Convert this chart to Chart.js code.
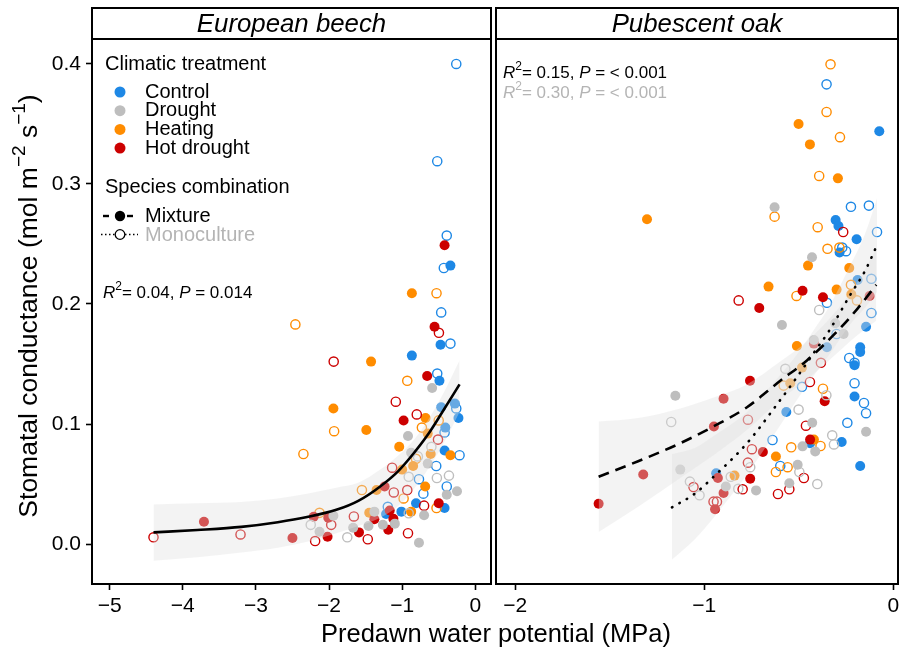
<!DOCTYPE html>
<html>
<head>
<meta charset="utf-8">
<title>Stomatal conductance vs predawn water potential</title>
<script src="https://cdn.jsdelivr.net/npm/chart.js@4.4.1/dist/chart.umd.min.js"></script>
<style>
	html, body { margin: 0; padding: 0; background: #fff; }
	#wrap { position: relative; width: 900px; height: 653px; overflow: hidden; }
	#beech-box { position: absolute; left: 0; top: 0; width: 494px; height: 653px; }
	#oak-box { position: absolute; left: 494px; top: 0; width: 406px; height: 653px; }
	#x-title {
		position: absolute; left: 246px; top: 619px; width: 500px; height: 28px;
		line-height: 28px; text-align: center; color: #000;
		font: 25.5px "Liberation Sans", Arial, Helvetica, sans-serif;
	}
</style>
</head>
<body>
<div id="wrap">
	<div id="beech-box"><canvas id="beechChart" width="494" height="653"></canvas></div>
	<div id="oak-box"><canvas id="oakChart" width="406" height="653"></canvas></div>
	<div id="x-title">Predawn water potential (MPa)</div>
</div>
<script>
// ---- tick labels ----
const beechXTicks = [-5, -4, -3, -2, -1, 0];
const oakXTicks = [-2, -1, 0];
const conductanceTicks = [0, 0.1, 0.2, 0.3, 0.4];

// ---- European beech: [water potential, conductance] ----
const beechControlMix = [[-0.34,0.232],[-0.475,0.166],[-0.867,0.157],[-0.49,0.136],[-0.466,0.114],[-0.28,0.117],[-0.23,0.105],[-0.41,0.097],[-0.42,0.078],[-0.81,0.034],[-0.42,0.030],[-1.22,0.025],[-1.01,0.027]];
const beechControlMono = [[-0.26,0.400],[-0.52,0.319],[-0.39,0.257],[-0.43,0.230],[-0.466,0.193],[-0.34,0.167],[-0.52,0.142],[-0.26,0.113],[-0.42,0.093],[-0.215,0.074],[-0.534,0.065],[-0.77,0.054],[-0.39,0.048],[-0.71,0.042],[-1.196,0.031]];
const beechDroughtMix = [[-0.59,0.130],[-0.92,0.090],[-0.877,0.076],[-0.65,0.067],[-0.25,0.044],[-0.39,0.041],[-0.70,0.024],[-1.94,0.0236],[-2.13,0.0103],[-1.38,0.027],[-1.264,0.016],[-1.1,0.017],[-1.67,0.0136],[-1.46,0.015],[-0.77,0.001]];
const beechDroughtMono = [[-0.91,0.056],[-0.525,0.055],[-0.36,0.057],[-0.91,0.0256],[-2.25,0.016],[-1.75,0.0056],[-0.6,0.081],[-0.785,0.073]];
const beechHeatingMix = [[-0.867,0.209],[-1.425,0.152],[-1.94,0.113],[-1.49,0.095],[-1.04,0.081],[-0.68,0.105],[-0.61,0.075],[-0.34,0.074],[-0.85,0.065],[-1.0,0.062],[-0.685,0.048],[-1.35,0.045],[-1.45,0.026],[-0.877,0.027],[-0.65,0.092]];
const beechHeatingMono = [[-0.53,0.209],[-2.46,0.183],[-0.93,0.136],[-1.93,0.094],[-2.35,0.075],[-0.73,0.097],[-0.81,0.071],[-1.55,0.045],[-0.98,0.038],[-0.53,0.030],[-2.13,0.026],[-0.5,0.103]];
const beechHotMix = [[-0.42,0.249],[-0.557,0.181],[-0.658,0.140],[-0.98,0.103],[-1.24,0.048],[-1.38,0.0206],[-1.12,0.021],[-1.17,0.028],[-0.5,0.034],[-1.19,0.012],[-1.59,0.0097],[-2.02,0.006],[-2.21,0.0228],[-2.01,0.022],[-2.5,0.005],[-3.71,0.0186]];
const beechHotMono = [[-0.497,0.176],[-1.936,0.152],[-1.087,0.1186],[-0.8,0.108],[-0.51,0.087],[-1.137,0.0636],[-1.114,0.043],[-0.93,0.045],[-0.70,0.032],[-1.66,0.023],[-1.97,0.016],[-2.19,0.0025],[-1.47,0.004],[-0.92,0.009],[-3.21,0.008],[-4.4,0.0056]];

// beech fitted curve and its band
const beechFitX = [-4.4, -3.8, -3.2, -2.7, -2.3, -1.9, -1.6, -1.3, -1.05, -0.85, -0.65, -0.45, -0.215];
const beechFitY = [0.0097, 0.0117, 0.0143, 0.0182, 0.0225, 0.0285, 0.036, 0.048, 0.061, 0.075, 0.091, 0.110, 0.133];
const beechFitLow = [-0.014, -0.011, -0.007, -0.003, 0.002, 0.009, 0.015, 0.022, 0.032, 0.045, 0.062, 0.082, 0.110];
const beechFitHigh = [0.033, 0.034, 0.035, 0.038, 0.042, 0.047, 0.051, 0.062, 0.074, 0.086, 0.103, 0.124, 0.153];

// ---- Pubescent oak ----
const oakControlMix = [[-0.074,0.344],[-0.305,0.270],[-0.29,0.265],[-0.194,0.254],[-0.284,0.243],[-0.189,0.220],[-0.144,0.181],[-0.351,0.164],[-0.175,0.164],[-0.175,0.160],[-0.205,0.149],[-0.205,0.123],[-0.566,0.110],[-0.273,0.085],[-0.44,0.084],[-0.175,0.065],[-0.937,0.059]];
const oakControlMono = [[-0.353,0.383],[-0.224,0.281],[-0.129,0.282],[-0.086,0.260],[-0.27,0.247],[-0.25,0.244],[-0.116,0.221],[-0.351,0.201],[-0.116,0.1925],[-0.30,0.175],[-0.233,0.155],[-0.205,0.151],[-0.483,0.131],[-0.205,0.134],[-0.155,0.1175],[-0.144,0.109],[-0.243,0.101],[-0.639,0.0867],[-0.598,0.065]];
const oakDroughtMix = [[-0.628,0.2806],[-0.43,0.239],[-0.589,0.1825],[-0.263,0.175],[-0.307,0.184],[-0.42,0.170],[-1.153,0.1236],[-0.429,0.101],[-0.144,0.0936],[-0.48,0.0814],[-0.413,0.0772],[-0.506,0.066],[-0.55,0.0506],[-0.726,0.0447],[-0.886,0.048],[-1.127,0.062]];
const oakDroughtMono = [[-0.392,0.195],[-0.571,0.146],[-0.354,0.124],[-0.501,0.112],[-1.175,0.1017],[-0.323,0.0906],[-0.314,0.083],[-0.497,0.060],[-0.402,0.050],[-1.076,0.052],[-1.025,0.0406],[-0.757,0.064],[-0.86,0.056],[-0.82,0.046]];
const oakHeatingMix = [[-0.501,0.350],[-0.441,0.333],[-0.293,0.3047],[-1.303,0.2706],[-0.451,0.232],[-0.233,0.230],[-0.66,0.2145],[-0.30,0.212],[-0.222,0.208],[-0.51,0.165],[-0.483,0.147],[-0.545,0.134],[-0.42,0.087],[-0.621,0.073],[-0.84,0.057]];
const oakHeatingMono = [[-0.332,0.3997],[-0.353,0.360],[-0.282,0.339],[-0.392,0.3067],[-0.628,0.2728],[-0.40,0.264],[-0.348,0.246],[-0.285,0.247],[-0.224,0.216],[-0.512,0.2067],[-0.192,0.203],[-0.58,0.132],[-0.372,0.1294],[-0.54,0.0806],[-0.385,0.0817],[-0.559,0.064],[-0.621,0.060]];
const oakHotMix = [[-0.48,0.211],[-0.372,0.2056],[-0.709,0.1967],[-0.125,0.2067],[-0.42,0.167],[-0.758,0.136],[-0.898,0.121],[-0.363,0.119],[-0.949,0.098],[-0.69,0.0767],[-0.757,0.0544],[-0.928,0.055],[-0.898,0.0425],[-0.943,0.029],[-1.323,0.058],[-1.559,0.0336],[-0.44,0.087]];
const oakHotMono = [[-0.265,0.260],[-0.818,0.203],[-0.383,0.151],[-0.441,0.135],[-0.769,0.1036],[-0.462,0.0986],[-0.748,0.079],[-0.769,0.0678],[-0.473,0.055],[-1.057,0.0475],[-0.797,0.0456],[-0.55,0.0456],[-0.61,0.0417],[-0.951,0.0353],[-0.933,0.0353]];

// oak fits: mixture (dashed) and monoculture (dotted)
const oakMixFitX = [-1.559, -1.35, -1.127, -0.951, -0.774, -0.598, -0.457, -0.298, -0.19, -0.09];
const oakMixFitY = [0.056, 0.069, 0.084, 0.098, 0.114, 0.136, 0.153, 0.177, 0.196, 0.216];
const oakMixFitLow = [0.010, 0.031, 0.055, 0.074, 0.095, 0.120, 0.137, 0.159, 0.174, 0.186];
const oakMixFitHigh = [0.102, 0.105, 0.113, 0.122, 0.133, 0.152, 0.169, 0.195, 0.218, 0.246];
const oakMonoFitX = [-1.171, -1.05, -0.951, -0.774, -0.598, -0.51, -0.422, -0.342, -0.228, -0.148, -0.086];
const oakMonoFitY = [0.0306, 0.042, 0.056, 0.084, 0.12, 0.139, 0.159, 0.177, 0.2075, 0.228, 0.249];
const oakMonoFitLow = [-0.013, 0.004, 0.022, 0.058, 0.099, 0.120, 0.140, 0.157, 0.183, 0.197, 0.210];
const oakMonoFitHigh = [0.075, 0.080, 0.090, 0.110, 0.141, 0.158, 0.178, 0.197, 0.232, 0.259, 0.288];

const treatmentNames = ['Control', 'Drought', 'Heating', 'Hot drought'];
const treatmentColors = ['#1E88E5', '#BEBEBE', '#FF8C00', '#CC0000'];

(() => {
	'use strict'

	const FONT = '"Liberation Sans", Arial, Helvetica, sans-serif';
	const BAND = 'rgba(223, 223, 223, 0.38)';
	const MINUS = '\u2212';

	function toXY(pairs) {
		return pairs.map(([x, y]) => ({ x, y }));
	}

	function zipXY(xs, ys) {
		return xs.map((x, i) => ({ x, y: ys[i] }));
	}

	function pointSet(pairs, color, filled) {
		return {
			data: toXY(pairs),
			showLine: false,
			order: 3,
			pointRadius: filled ? 5 : 4.6,
			pointHoverRadius: filled ? 5 : 4.6,
			pointBackgroundColor: filled ? color : 'rgba(0,0,0,0)',
			pointBorderColor: color,
			pointBorderWidth: filled ? 0 : 1.4
		};
	}

	function bandSets(xs, low, high) {
		return [
			{ data: zipXY(xs, high), fill: '+1', backgroundColor: BAND, borderWidth: 0, pointRadius: 0, order: 2, cubicInterpolationMode: 'monotone' },
			{ data: zipXY(xs, low), fill: false, borderWidth: 0, pointRadius: 0, order: 2, cubicInterpolationMode: 'monotone' }
		];
	}

	function fitLine(xs, ys, dash) {
		return {
			data: zipXY(xs, ys),
			borderColor: '#000',
			borderWidth: 2.6,
			borderDash: dash,
			borderCapStyle: dash.length && dash[0] < 3 ? 'round' : 'butt',
			pointRadius: 0,
			fill: false,
			order: 1,
			cubicInterpolationMode: 'monotone'
		};
	}

	function partFont(p, size) {
		return (p.italic ? 'italic ' : '') + (p.sup ? Math.round(size * 0.7) : size) + 'px ' + FONT;
	}

	function drawRich(ctx, parts, x, y, size, color, align) {
		const widths = parts.map((p) => {
			ctx.font = partFont(p, size);
			return ctx.measureText(p.t).width;
		});
		const total = widths.reduce((a, b) => a + b, 0);
		let cx = align === 'center' ? x - total / 2 : x;
		ctx.fillStyle = color;
		ctx.textBaseline = 'middle';
		ctx.textAlign = 'left';
		parts.forEach((p, i) => {
			ctx.font = partFont(p, size);
			ctx.fillText(p.t, cx, p.sup ? y - size * 0.38 : y);
			cx += widths[i];
		});
	}

	function statParts(r2, p) {
		return [
			{ t: 'R', italic: true }, { t: '2', sup: true }, { t: '= ' + r2 + ', ' },
			{ t: 'P', italic: true }, { t: ' = ' + p }
		];
	}

	function drawPanelFrame(chart, title) {
		const { ctx, chartArea } = chart;
		const w = chartArea.right - chartArea.left;
		ctx.save();
		ctx.strokeStyle = '#000';
		ctx.lineWidth = 2;
		ctx.strokeRect(chartArea.left, 8, w, chartArea.top - 8);
		ctx.strokeRect(chartArea.left, chartArea.top, w, chartArea.bottom - chartArea.top);
		ctx.fillStyle = '#000';
		ctx.font = 'italic 25.8px ' + FONT;
		ctx.textAlign = 'center';
		ctx.textBaseline = 'middle';
		ctx.fillText(title, chartArea.left + w / 2, (8 + chartArea.top) / 2 + 1);
		ctx.restore();
	}

	const beechPlugin = {
		id: 'beechDecor',
		afterDraw(chart) {
			const ctx = chart.ctx;
			drawPanelFrame(chart, 'European beech');
			ctx.save();

			// y axis title
			ctx.save();
			ctx.translate(30, 306);
			ctx.rotate(-Math.PI / 2);
			drawRich(ctx, [
				{ t: 'Stomatal conductance (mol m' }, { t: MINUS + '2', sup: true },
				{ t: ' s' }, { t: MINUS + '1', sup: true }, { t: ')' }
			], 0, 0, 26.5, '#000', 'center');
			ctx.restore();

			// legend
			ctx.fillStyle = '#000';
			ctx.textAlign = 'left';
			ctx.textBaseline = 'middle';
			ctx.font = '20px ' + FONT;
			ctx.fillText('Climatic treatment', 105, 64);
			treatmentNames.forEach((name, i) => {
				const y = 92 + i * 18.7;
				ctx.beginPath();
				ctx.arc(120, y, 5.5, 0, Math.PI * 2);
				ctx.fillStyle = treatmentColors[i];
				ctx.fill();
				ctx.fillStyle = '#000';
				ctx.fillText(name, 145, y);
			});
			ctx.fillText('Species combination', 105, 187);

			ctx.strokeStyle = '#000';
			ctx.lineWidth = 2.4;
			ctx.setLineDash([6, 6]);
			ctx.beginPath();
			ctx.moveTo(103, 216);
			ctx.lineTo(136, 216);
			ctx.stroke();
			ctx.setLineDash([]);
			ctx.beginPath();
			ctx.arc(120, 216, 5.2, 0, Math.PI * 2);
			ctx.fillStyle = '#000';
			ctx.fill();
			ctx.fillText('Mixture', 145, 216);

			ctx.lineWidth = 1.6;
			ctx.setLineDash([1.5, 2.5]);
			ctx.beginPath();
			ctx.moveTo(101, 234.5);
			ctx.lineTo(138, 234.5);
			ctx.stroke();
			ctx.setLineDash([]);
			ctx.beginPath();
			ctx.arc(120, 234.5, 4.8, 0, Math.PI * 2);
			ctx.fillStyle = '#fff';
			ctx.fill();
			ctx.lineWidth = 1.3;
			ctx.stroke();
			ctx.fillStyle = '#B4B4B4';
			ctx.fillText('Monoculture', 145, 235);

			drawRich(ctx, statParts('0.04', '0.014'), 103, 293, 17, '#000', 'left');
			ctx.restore();
		}
	};

	const oakPlugin = {
		id: 'oakDecor',
		afterDraw(chart) {
			const ctx = chart.ctx;
			drawPanelFrame(chart, 'Pubescent oak');
			ctx.save();
			drawRich(ctx, statParts('0.15', '< 0.001'), 9, 73, 17, '#000', 'left');
			drawRich(ctx, statParts('0.30', '< 0.001'), 9, 93, 17, '#B4B4B4', 'left');
			ctx.restore();
		}
	};

	function tickText(value) {
		return value < 0 ? MINUS + Math.abs(value) : String(value);
	}

	function xScale(min, max, ticks) {
		return {
			type: 'linear',
			min,
			max,
			afterBuildTicks: (scale) => { scale.ticks = ticks.map((v) => ({ value: v })); },
			afterFit: (scale) => { scale.height = 69; scale.paddingLeft = 0; scale.paddingRight = 0; },
			grid: { drawOnChartArea: false, drawTicks: true, tickLength: 6, tickColor: '#000', tickWidth: 1.6 },
			border: { display: false },
			ticks: {
				autoSkip: false,
				maxRotation: 0,
				padding: 4,
				color: '#000',
				font: { family: FONT, size: 21 },
				callback: (value) => tickText(value)
			}
		};
	}

	function yScale(show) {
		return {
			type: 'linear',
			display: show,
			min: -0.0333,
			max: 0.4208,
			afterBuildTicks: (scale) => { scale.ticks = conductanceTicks.map((v) => ({ value: v })); },
			afterFit: (scale) => { if (show) { scale.width = 92; } scale.paddingTop = 0; scale.paddingBottom = 0; },
			grid: { drawOnChartArea: false, drawTicks: true, tickLength: 6, tickColor: '#000', tickWidth: 1.6 },
			border: { display: false },
			ticks: {
				padding: 5,
				color: '#000',
				font: { family: FONT, size: 21 },
				callback: (value) => value.toFixed(1)
			}
		};
	}

	const baseOptions = {
		responsive: false,
		animation: false,
		events: [],
		devicePixelRatio: 1,
		plugins: { legend: { display: false }, tooltip: { enabled: false } }
	};

	const beechPoints = [
		[beechDroughtMono, 1, false], [beechDroughtMix, 1, true],
		[beechHotMono, 3, false], [beechHotMix, 3, true],
		[beechHeatingMono, 2, false], [beechHeatingMix, 2, true],
		[beechControlMono, 0, false], [beechControlMix, 0, true]
	];

	new Chart(document.getElementById('beechChart'), {
		type: 'line',
		data: {
			datasets: [
				...beechPoints.map(([pairs, c, filled]) => pointSet(pairs, treatmentColors[c], filled)),
				...bandSets(beechFitX, beechFitLow, beechFitHigh),
				fitLine(beechFitX, beechFitY, [])
			]
		},
		options: {
			...baseOptions,
			layout: { autoPadding: false, padding: { top: 39, right: 3, left: 0, bottom: 0 } },
			scales: {
				x: xScale(-5.241, 0.215, beechXTicks),
				y: yScale(true)
			}
		},
		plugins: [beechPlugin]
	});

	const oakPoints = [
		[oakDroughtMono, 1, false], [oakDroughtMix, 1, true],
		[oakHotMono, 3, false], [oakHotMix, 3, true],
		[oakHeatingMono, 2, false], [oakHeatingMix, 2, true],
		[oakControlMono, 0, false], [oakControlMix, 0, true]
	];

	new Chart(document.getElementById('oakChart'), {
		type: 'line',
		data: {
			datasets: [
				...oakPoints.map(([pairs, c, filled]) => pointSet(pairs, treatmentColors[c], filled)),
				...bandSets(oakMixFitX, oakMixFitLow, oakMixFitHigh),
				...bandSets(oakMonoFitX, oakMonoFitLow, oakMonoFitHigh),
				fitLine(oakMixFitX, oakMixFitY, [11, 7]),
				fitLine(oakMonoFitX, oakMonoFitY, [0.5, 8])
			]
		},
		options: {
			...baseOptions,
			layout: { autoPadding: false, padding: { top: 39, right: 2, left: 2, bottom: 0 } },
			scales: {
				x: xScale(-2.102, 0.025, oakXTicks),
				y: yScale(false)
			}
		},
		plugins: [oakPlugin]
	});
})()
</script>
</body>
</html>
